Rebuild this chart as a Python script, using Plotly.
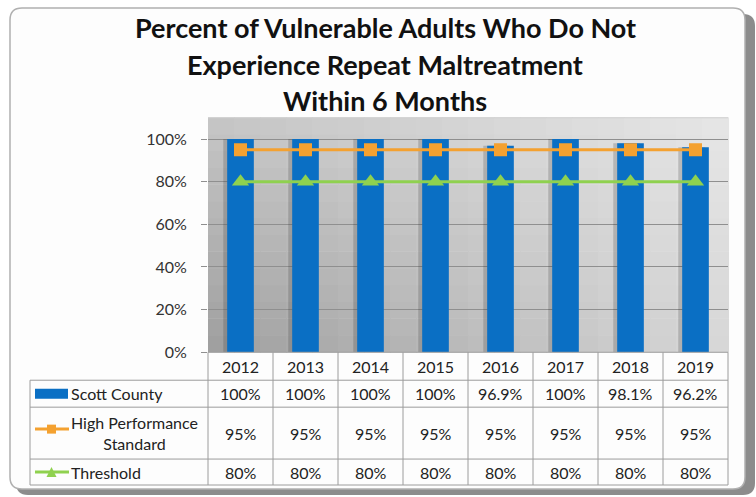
import plotly.graph_objects as go

years = ['2012', '2013', '2014', '2015', '2016', '2017', '2018', '2019']
scott = [100, 100, 100, 100, 96.9, 100, 98.1, 96.2]
high_perf = [95, 95, 95, 95, 95, 95, 95, 95]
threshold = [80, 80, 80, 80, 80, 80, 80, 80]
row_names = ['Scott County', 'High Performance<br>Standard', 'Threshold']
title_lines = ['Percent of Vulnerable Adults Who Do Not',
               'Experience Repeat Maltreatment',
               'Within 6 Months']
y_ticks = [0, 20, 40, 60, 80, 100]

W, H = 756, 497
HE = 489  # rendered page comes out a little squashed vertically
FONT = 'Lato'
BLUE = '#0A6FC4'
ORANGE = '#F4A130'
GREEN = '#8FD14F'
GRIDC = '#8f8f8f'
BW = 0.41

def X(px):
    return px / W

def Y(py):
    return 1 - py / HE

# plot area in pixels
PL, PR, PT, PB = 208, 728, 118, 353
COLW = (PR - PL) / len(years)
TL = 30
rows_y = [353, 381, 408, 460, 486]

def pct(v):
    return f"{v:g}%"

fig = go.Figure()
# soft shadow behind the bars
fig.add_trace(go.Bar(x=years, y=scott, marker=dict(color='rgba(50,50,50,0.22)', line=dict(width=0)),
                     width=BW, offset=-BW / 2 - 0.06, hoverinfo='skip'))
fig.add_trace(go.Bar(x=years, y=scott, name='Scott County', marker=dict(color=BLUE, line=dict(width=0)),
                     width=BW, offset=-BW / 2))
fig.add_trace(go.Scatter(x=years, y=high_perf, name='High Performance Standard', mode='lines+markers',
                         line=dict(color=ORANGE, width=3), marker=dict(symbol='square', size=13, color=ORANGE)))
fig.add_trace(go.Scatter(x=years, y=threshold, name='Threshold', mode='lines+markers',
                         line=dict(color=GREEN, width=3), marker=dict(symbol='triangle-up', size=15, color=GREEN)))

shapes = []
# frame shadow + frame
def rrect(x0, y0, x1, y1, r):
    return (f"M {X(x0 + r)} {Y(y0)} L {X(x1 - r)} {Y(y0)} Q {X(x1)} {Y(y0)} {X(x1)} {Y(y0 + r)} "
            f"L {X(x1)} {Y(y1 - r)} Q {X(x1)} {Y(y1)} {X(x1 - r)} {Y(y1)} "
            f"L {X(x0 + r)} {Y(y1)} Q {X(x0)} {Y(y1)} {X(x0)} {Y(y1 - r)} "
            f"L {X(x0)} {Y(y0 + r)} Q {X(x0)} {Y(y0)} {X(x0 + r)} {Y(y0)} Z")
shapes.append(dict(type='path', xref='paper', yref='paper', path=rrect(16, 14, 755, 496, 12),
                   fillcolor='#8c8c8c', line=dict(width=0), layer='below'))
shapes.append(dict(type='path', xref='paper', yref='paper', path=rrect(10, 8, 745, 490, 12),
                   fillcolor='#fdfdfd', line=dict(color='#b0b0b0', width=1.5), layer='below'))

# diagonal grey gradient of the plot area (dark bottom-left, light top-right)
nx, ny = 20, 14
for i in range(nx):
    for j in range(ny):
        u = (i + 0.5) / nx
        v = (j + 0.5) / ny
        c = int(158 + 58 * u + 40 * v - 25 * u * v)
        shapes.append(dict(type='rect', xref='x domain', yref='y domain', x0=i / nx, x1=(i + 1) / nx + 0.002,
                           y0=j / ny, y1=(j + 1) / ny + 0.002,
                           fillcolor=f'rgb({c},{c},{c})', line=dict(width=0), layer='below'))
shapes.append(dict(type='line', xref='x domain', yref='y domain', x0=0, x1=1, y0=1, y1=1,
                   line=dict(color='#d0d0d0', width=1), layer='below'))

# table lines
LC = '#9c9c9c'
for k, ry in enumerate(rows_y):
    x0 = PL if k == 0 else TL
    shapes.append(dict(type='line', xref='paper', yref='paper', x0=X(x0), x1=X(PR), y0=Y(ry), y1=Y(ry),
                       line=dict(color=LC, width=1)))
shapes.append(dict(type='line', xref='paper', yref='paper', x0=X(TL), x1=X(TL), y0=Y(rows_y[1]), y1=Y(rows_y[-1]),
                   line=dict(color=LC, width=1)))
for k in range(len(years) + 1):
    cx = PL + k * COLW
    shapes.append(dict(type='line', xref='paper', yref='paper', x0=X(cx), x1=X(cx), y0=Y(rows_y[0]), y1=Y(rows_y[-1]),
                       line=dict(color=LC, width=1)))

# legend keys in table
ky = [(rows_y[1] + rows_y[2]) / 2, (rows_y[2] + rows_y[3]) / 2 - 4, (rows_y[3] + rows_y[4]) / 2]
shapes.append(dict(type='rect', xref='paper', yref='paper', x0=X(35), x1=X(68), y0=Y(ky[0] - 5), y1=Y(ky[0] + 5),
                   fillcolor=BLUE, line=dict(width=0)))
shapes.append(dict(type='line', xref='paper', yref='paper', x0=X(35), x1=X(69), y0=Y(ky[1]), y1=Y(ky[1]),
                   line=dict(color=ORANGE, width=3)))
shapes.append(dict(type='rect', xref='paper', yref='paper', x0=X(47), x1=X(56), y0=Y(ky[1] - 4.5), y1=Y(ky[1] + 4.5),
                   fillcolor=ORANGE, line=dict(width=0)))
shapes.append(dict(type='line', xref='paper', yref='paper', x0=X(35), x1=X(69), y0=Y(ky[2]), y1=Y(ky[2]),
                   line=dict(color=GREEN, width=3)))
shapes.append(dict(type='path', xref='paper', yref='paper',
                   path=f"M {X(46.5)} {Y(ky[2] + 5)} L {X(56.5)} {Y(ky[2] + 5)} L {X(51.5)} {Y(ky[2] - 5)} Z",
                   fillcolor=GREEN, line=dict(width=0)))

ann = []
for i, line in enumerate(title_lines):
    ann.append(dict(text=f"<b>{line}</b>", xref='paper', yref='paper', x=X(385), y=Y([28, 65, 101][i]),
                    showarrow=False, xanchor='center', yanchor='middle',
                    font=dict(family=FONT, size=27, color='#111111')))
for k, yr in enumerate(years):
    cx = PL + (k + 0.5) * COLW
    ann.append(dict(text=yr, xref='paper', yref='paper', x=X(cx), y=Y((rows_y[0] + rows_y[1]) / 2),
                    showarrow=False, xanchor='center', yanchor='middle',
                    font=dict(family=FONT, size=16, color='#222')))
    for r, vals in enumerate([scott, high_perf, threshold]):
        ann.append(dict(text=pct(vals[k]), xref='paper', yref='paper', x=X(cx),
                        y=Y((rows_y[r + 1] + rows_y[r + 2]) / 2),
                        showarrow=False, xanchor='center', yanchor='middle',
                        font=dict(family=FONT, size=16, color='#222')))
for r, name in enumerate(row_names):
    ann.append(dict(text=name, xref='paper', yref='paper', x=X(69), y=Y((rows_y[r + 1] + rows_y[r + 2]) / 2),
                    showarrow=False, xanchor='left', yanchor='middle', align='center',
                    font=dict(family=FONT, size=16, color='#222')))

fig.update_layout(
    width=W, height=H, margin=dict(l=0, r=0, t=0, b=0),
    paper_bgcolor='white', plot_bgcolor='rgba(0,0,0,0)',
    showlegend=False, barmode='overlay',
    shapes=shapes, annotations=ann,
    xaxis=dict(domain=[X(PL), X(PR)], showticklabels=False, showgrid=False, zeroline=False, showline=False,
               range=[-0.5, len(years) - 0.5]),
    yaxis=dict(domain=[Y(PB), Y(PT)], range=[0, 110], tickvals=y_ticks, ticktext=[pct(v) for v in y_ticks],
               showgrid=True, gridcolor=GRIDC, gridwidth=1, zeroline=False, showline=False,
               ticks='outside', ticklen=6, tickcolor=GRIDC, ticklabelstandoff=11,
               tickfont=dict(family=FONT, size=16, color='#333')),
)

fig.write_html("out.html", config={'displayModeBar': False},
               post_script="document.body.style.margin='0';")
